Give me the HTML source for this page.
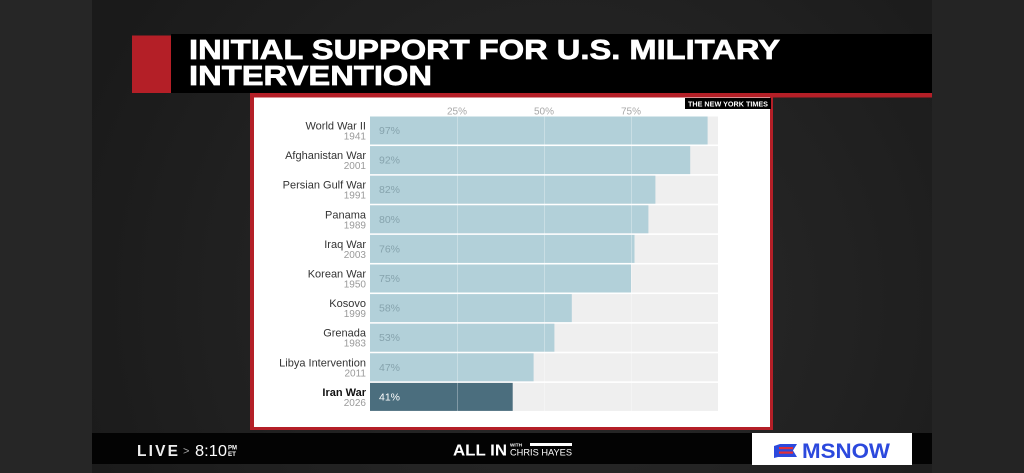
<!DOCTYPE html>
<html><head><meta charset="utf-8"><style>
html,body{margin:0;padding:0;background:#1c1c1c;}
svg{display:block;}
</style></head><body>
<svg width="1024" height="473" viewBox="0 0 1024 473" xmlns="http://www.w3.org/2000/svg" font-family="Liberation Sans, sans-serif">
<defs>
<radialGradient id="bg" cx="560" cy="300" r="520" gradientUnits="userSpaceOnUse">
<stop offset="0" stop-color="#2a2a2a"/><stop offset="0.6" stop-color="#212121"/><stop offset="1" stop-color="#1a1a1a"/>
</radialGradient>
</defs>
<rect width="1024" height="473" fill="url(#bg)"/>
<rect x="0" y="0" width="92" height="473" fill="#262626"/>
<rect x="932" y="0" width="92" height="473" fill="#242424"/>

<!-- title bar -->
<rect x="171" y="34" width="761" height="59" fill="#000"/>
<rect x="132" y="35.5" width="39" height="57.5" fill="#b41f27"/>
<rect x="250" y="93" width="682" height="4.5" fill="#b41f27"/>
<text x="189" y="59" font-size="28" font-weight="bold" fill="#fff" stroke="#fff" stroke-width="0.7" textLength="591" lengthAdjust="spacingAndGlyphs">INITIAL SUPPORT FOR U.S. MILITARY</text>
<text x="189" y="85" font-size="28" font-weight="bold" fill="#fff" stroke="#fff" stroke-width="0.7" textLength="243" lengthAdjust="spacingAndGlyphs">INTERVENTION</text>

<!-- frame -->
<rect x="250" y="93" width="523" height="337" fill="#b41f27"/>
<rect x="254" y="97.5" width="516" height="329.5" fill="#fff"/>
<rect x="685" y="98" width="86" height="11" fill="#000"/>
<text x="688" y="106.6" font-size="7" font-weight="bold" fill="#fff" textLength="80" lengthAdjust="spacingAndGlyphs">THE NEW YORK TIMES</text>

<!-- axis labels -->
<g font-size="10" fill="#a8a8a8" text-anchor="middle">
<text x="457" y="114.5">25%</text>
<text x="544" y="114.5">50%</text>
<text x="631" y="114.5">75%</text>
</g>

<!-- rows -->
<g>
<rect x="370" y="116.5" width="348" height="28" fill="#efefef"/><rect x="370" y="116.5" width="337.6" height="28" fill="#b2d0d9"/>
<rect x="370" y="146.1" width="348" height="28" fill="#efefef"/><rect x="370" y="146.1" width="320.2" height="28" fill="#b2d0d9"/>
<rect x="370" y="175.7" width="348" height="28" fill="#efefef"/><rect x="370" y="175.7" width="285.4" height="28" fill="#b2d0d9"/>
<rect x="370" y="205.3" width="348" height="28" fill="#efefef"/><rect x="370" y="205.3" width="278.4" height="28" fill="#b2d0d9"/>
<rect x="370" y="234.9" width="348" height="28" fill="#efefef"/><rect x="370" y="234.9" width="264.5" height="28" fill="#b2d0d9"/>
<rect x="370" y="264.5" width="348" height="28" fill="#efefef"/><rect x="370" y="264.5" width="261" height="28" fill="#b2d0d9"/>
<rect x="370" y="294.1" width="348" height="28" fill="#efefef"/><rect x="370" y="294.1" width="201.8" height="28" fill="#b2d0d9"/>
<rect x="370" y="323.7" width="348" height="28" fill="#efefef"/><rect x="370" y="323.7" width="184.4" height="28" fill="#b2d0d9"/>
<rect x="370" y="353.3" width="348" height="28" fill="#efefef"/><rect x="370" y="353.3" width="163.6" height="28" fill="#b2d0d9"/>
<rect x="370" y="382.9" width="348" height="28" fill="#efefef"/><rect x="370" y="382.9" width="142.7" height="28" fill="#4b6e7e"/>
</g>
<g stroke="#ffffff" stroke-opacity="0.3" stroke-width="1">
<line x1="457.5" y1="116.5" x2="457.5" y2="411"/>
<line x1="544.5" y1="116.5" x2="544.5" y2="411"/>
<line x1="631.5" y1="116.5" x2="631.5" y2="411"/>
</g>

<!-- percent labels -->
<g font-size="10.5" fill="#86a3ad">
<text x="379" y="134">97%</text>
<text x="379" y="163.6">92%</text>
<text x="379" y="193.2">82%</text>
<text x="379" y="222.8">80%</text>
<text x="379" y="252.4">76%</text>
<text x="379" y="282">75%</text>
<text x="379" y="311.6">58%</text>
<text x="379" y="341.2">53%</text>
<text x="379" y="370.8">47%</text>
<text x="379" y="400.4" fill="#ffffff">41%</text>
</g>

<!-- names -->
<g font-size="11" fill="#333" text-anchor="end">
<text x="366" y="129.5">World War II</text>
<text x="366" y="159.1">Afghanistan War</text>
<text x="366" y="188.7">Persian Gulf War</text>
<text x="366" y="218.3">Panama</text>
<text x="366" y="247.9">Iraq War</text>
<text x="366" y="277.5">Korean War</text>
<text x="366" y="307.1">Kosovo</text>
<text x="366" y="336.7">Grenada</text>
<text x="366" y="366.3">Libya Intervention</text>
<text x="366" y="395.9" font-weight="bold" fill="#111">Iran War</text>
</g>
<g font-size="10" fill="#9a9a9a" text-anchor="end">
<text x="366" y="139.5">1941</text>
<text x="366" y="169.1">2001</text>
<text x="366" y="198.7">1991</text>
<text x="366" y="228.3">1989</text>
<text x="366" y="257.9">2003</text>
<text x="366" y="287.5">1950</text>
<text x="366" y="317.1">1999</text>
<text x="366" y="346.7">1983</text>
<text x="366" y="376.3">2011</text>
<text x="366" y="405.9">2026</text>
</g>

<!-- bottom bar -->
<rect x="92" y="433" width="840" height="31" fill="#030303"/>
<text x="137" y="456" font-size="15.5" font-weight="bold" fill="#eee" textLength="41" lengthAdjust="spacing">LIVE</text>
<text x="183" y="454.5" font-size="11" fill="#aaa">&gt;</text>
<text x="195" y="456" font-size="15.5" fill="#fff" textLength="32" lengthAdjust="spacingAndGlyphs">8:10</text>
<text x="228" y="449.5" font-size="6" font-weight="bold" fill="#fff" textLength="9" lengthAdjust="spacingAndGlyphs">PM</text>
<text x="228" y="456" font-size="6" font-weight="bold" fill="#fff" textLength="8" lengthAdjust="spacingAndGlyphs">ET</text>

<text x="453" y="455.5" font-size="15.5" font-weight="bold" fill="#fff" textLength="54" lengthAdjust="spacingAndGlyphs">ALL IN</text>
<text x="510" y="446.5" font-size="4.5" font-weight="bold" fill="#fff" textLength="12" lengthAdjust="spacingAndGlyphs">WITH</text>
<rect x="530" y="443" width="42" height="3" fill="#fff"/>
<text x="510" y="455.5" font-size="9.5" fill="#fff" textLength="62" lengthAdjust="spacingAndGlyphs">CHRIS HAYES</text>

<rect x="752" y="433" width="160" height="32" fill="#fff"/>
<path d="M774 446 L780 444 L797 444 L793 450.5 L797 457 L778 457 L774 458 Z" fill="#2c49dd"/>
<rect x="779" y="447" width="14" height="2.2" fill="#e0303a"/>
<rect x="779" y="451.5" width="14" height="2.2" fill="#e0303a"/>
<text x="802" y="458" font-size="21" font-weight="bold" fill="#2c49dd" textLength="88" lengthAdjust="spacingAndGlyphs">MSNOW</text>
</svg>
</body></html>
